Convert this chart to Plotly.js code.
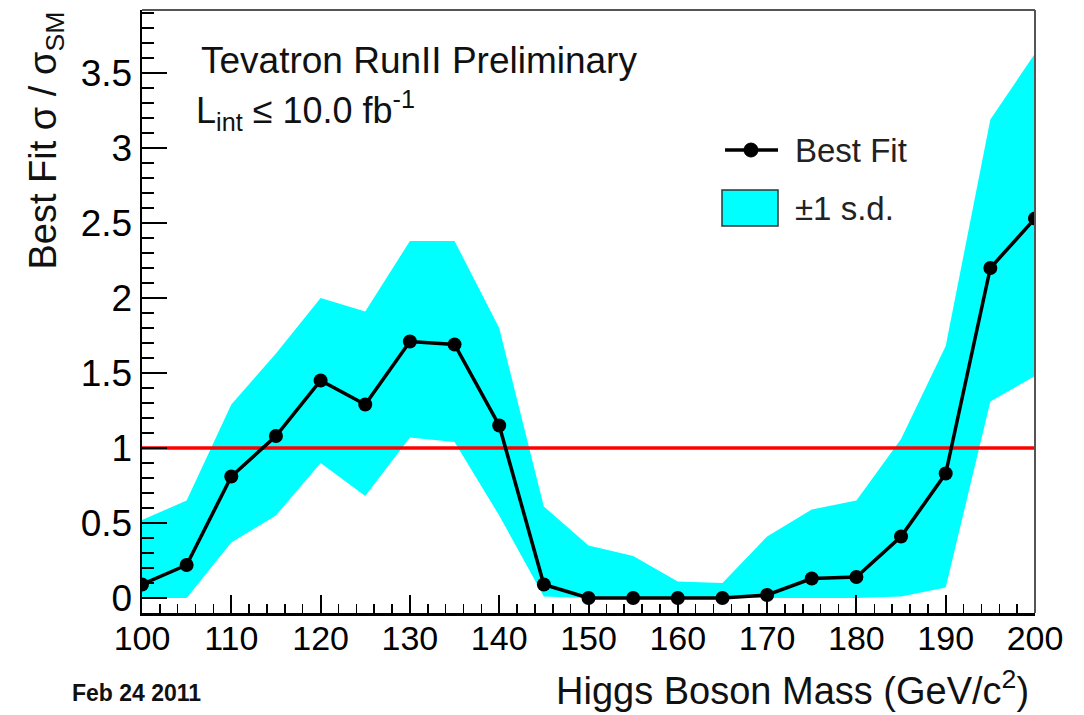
<!DOCTYPE html>
<html>
<head>
<meta charset="utf-8">
<script src="https://cdn.plot.ly/plotly-3.0.1.min.js"></script>
<style>
html,body{margin:0;padding:0;background:#fff;}
#chart{width:1084px;height:715px;}
</style>
</head>
<body>
<div id="chart"></div>
<script>
// Higgs boson mass points (GeV/c^2)
const mass = [100,105,110,115,120,125,130,135,140,145,150,155,160,165,170,175,180,185,190,195,200];
// Best fit sigma / sigma_SM
const bestFit = [0.09,0.22,0.81,1.08,1.45,1.29,1.71,1.69,1.15,0.09,0.0,0.0,0.0,0.0,0.02,0.13,0.14,0.41,0.83,2.20,2.53];
// +1 s.d. upper edge
const bandUpper = [0.52,0.65,1.29,1.63,2.00,1.91,2.38,2.38,1.80,0.61,0.35,0.28,0.11,0.10,0.41,0.59,0.65,1.06,1.68,3.19,3.63];
// -1 s.d. lower edge
const bandLower = [0.0,0.0,0.37,0.55,0.90,0.68,1.07,1.04,0.55,0.01,0.0,0.0,0.0,0.0,0.0,0.0,0.0,0.01,0.07,1.31,1.48];
// SM reference level
const smLevel = 1;
const xTicks = [100,110,120,130,140,150,160,170,180,190,200];
const legendLabels = ['Best Fit', '\u00b11 s.d.'];

const FONT = '"Liberation Sans", Arial, Helvetica, sans-serif';
const CYAN = '#00ffff';

const traces = [
  {x: mass, y: bandLower, type: 'scatter', mode: 'lines', line: {width: 0, color: CYAN},
   showlegend: false, hoverinfo: 'skip'},
  {x: mass, y: bandUpper, type: 'scatter', mode: 'lines', fill: 'tonexty', fillcolor: CYAN,
   line: {width: 0, color: CYAN}, name: legendLabels[1], showlegend: false},
  {x: [mass[0], mass[mass.length-1]], y: [smLevel, smLevel], type: 'scatter', mode: 'lines',
   line: {color: '#ff0000', width: 3.5}, showlegend: false, hoverinfo: 'skip'},
  {x: mass, y: bestFit, type: 'scatter', mode: 'lines+markers', name: legendLabels[0], showlegend: false,
   line: {color: '#000000', width: 3.5}, marker: {color: '#000000', size: 14, symbol: 'circle'}}
];

// legend box drawn in paper coordinates
const shapes = [
  {type: 'line', xref: 'paper', yref: 'paper', x0: 0, x1: 1, y0: 1, y1: 1, line: {color: '#555', width: 2}},
  {type: 'line', xref: 'paper', yref: 'paper', x0: 1, x1: 1, y0: 0, y1: 1, line: {color: '#555', width: 2}},
  {type: 'line', xref: 'paper', yref: 'paper', x0: 0.6529, x1: 0.7122, y0: 0.7678, y1: 0.7678,
   line: {color: '#000', width: 3.5}},
  {type: 'circle', xref: 'paper', yref: 'paper', x0: 0.6741, x1: 0.6898, y0: 0.7562, y1: 0.7794,
   fillcolor: '#000', line: {color: '#000', width: 1}},
  {type: 'rect', xref: 'paper', yref: 'paper', x0: 0.6495, x1: 0.7122, y0: 0.6418, y1: 0.7015,
   fillcolor: CYAN, line: {color: '#333', width: 1.5}}
];

const layout = {
  width: 1084, height: 715,
  margin: {l: 142, r: 49, t: 10, b: 102},
  paper_bgcolor: '#ffffff', plot_bgcolor: '#ffffff',
  font: {family: FONT, color: '#000000', size: 34},
  showlegend: false,
  xaxis: {
    range: [100, 200], showgrid: false, zeroline: false,
    showline: true, linecolor: '#000', linewidth: 2.5,
    ticks: 'inside', ticklen: 18, tickwidth: 2, tickcolor: '#000',
    tickmode: 'array', tickvals: xTicks, ticktext: xTicks.map(String),
    tickfont: {family: FONT, size: 34, color: '#000'},
    ticklabelstandoff: -6,
    minor: {dtick: 2, ticks: 'inside', ticklen: 9, tickwidth: 1.5, tickcolor: '#000', showgrid: false}
  },
  yaxis: {
    range: [-0.1, 3.92], showgrid: false, zeroline: false,
    showline: true, linecolor: '#000', linewidth: 2.5,
    ticks: 'inside', ticklen: 25, tickwidth: 2, tickcolor: '#000',
    dtick: 0.5, tick0: 0,
    tickfont: {family: FONT, size: 37, color: '#000'},
    minor: {dtick: 0.1, ticks: 'inside', ticklen: 12, tickwidth: 1.5, tickcolor: '#000', showgrid: false}
  },
  shapes: shapes,
  annotations: [
    {text: 'Tevatron RunII Preliminary', xref: 'paper', yref: 'paper', x: 0.064, y: 0.917,
     xanchor: 'left', yanchor: 'middle', showarrow: false, font: {family: FONT, size: 37, color: '#111'}},
    {text: 'L<sub>int</sub> \u2264 10.0 fb<sup>-1</sup>', xref: 'paper', yref: 'paper', x: 0.058, y: 0.834,
     xanchor: 'left', yanchor: 'middle', showarrow: false, font: {family: FONT, size: 36, color: '#111'}},
    {text: legendLabels[0], xref: 'paper', yref: 'paper', x: 0.729, y: 0.7678,
     xanchor: 'left', yanchor: 'middle', showarrow: false, font: {family: FONT, size: 33, color: '#222'}},
    {text: legendLabels[1], xref: 'paper', yref: 'paper', x: 0.729, y: 0.6716,
     xanchor: 'left', yanchor: 'middle', showarrow: false, font: {family: FONT, size: 33, color: '#222'}},
    {text: 'Higgs Boson Mass (GeV/c<sup>2</sup>)', xref: 'paper', yref: 'paper', x: 0.995, y: -0.125,
     xanchor: 'right', yanchor: 'middle', showarrow: false, font: {family: FONT, size: 38, color: '#111'}},
    {text: 'Best Fit \u03c3 / \u03c3<sub>SM</sub>', xref: 'paper', yref: 'paper', x: -0.108, y: 1.0,
     xanchor: 'center', yanchor: 'top', textangle: -90, showarrow: false, font: {family: FONT, size: 38, color: '#111'}},
    {text: '<b>Feb 24 2011</b>', xref: 'paper', yref: 'paper', x: -0.081, y: -0.133,
     xanchor: 'left', yanchor: 'middle', showarrow: false, font: {family: FONT, size: 23, color: '#111'}}
  ]
};

Plotly.newPlot('chart', traces, layout, {displayModeBar: false, staticPlot: true});
</script>
</body>
</html>
